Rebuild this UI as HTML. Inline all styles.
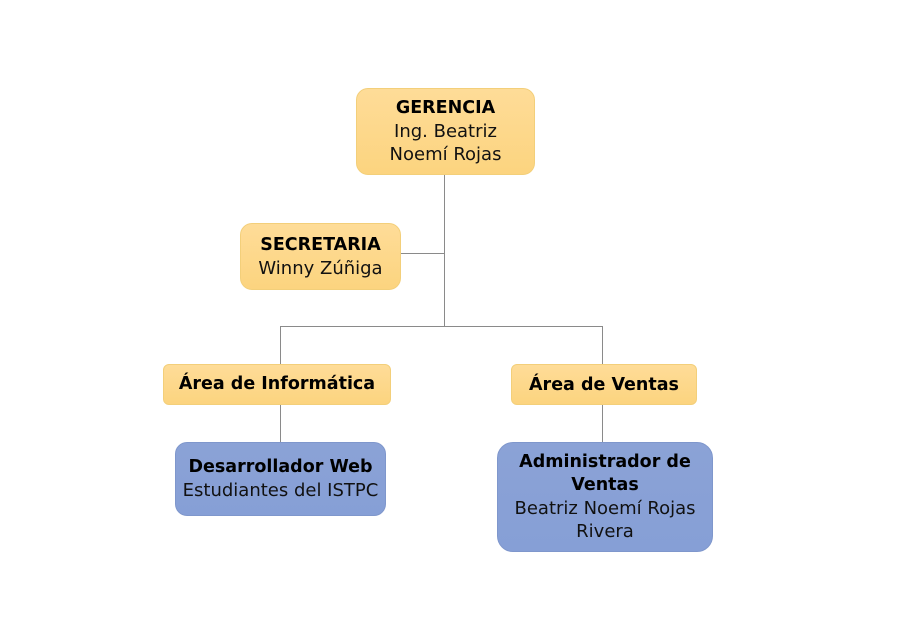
<!DOCTYPE html>
<html><head><meta charset="utf-8"><style>
body{margin:0;width:900px;height:636px;background:#fff;position:relative;font-family:"DejaVu Sans","Liberation Sans",sans-serif;overflow:hidden}
.b{position:absolute;box-sizing:border-box;display:flex;flex-direction:column;justify-content:center;align-items:center;text-align:center;font-size:18px;line-height:23px;color:#111;border-radius:12px;white-space:nowrap}
.y{background:linear-gradient(#fedc98,#fcd47f);border:1px solid #f3cf7a}
.u{background:linear-gradient(#8ba2d6,#869fd6);border:1px solid #7f97cc}
b{font-weight:bold;color:#000;font-size:17.5px}
.l{position:absolute;background:#8a8a8a}
</style></head><body>
<div class="l" style="left:444px;top:174px;width:1px;height:153px"></div>
<div class="l" style="left:400px;top:253px;width:45px;height:1px"></div>
<div class="l" style="left:280px;top:326px;width:323px;height:1px"></div>
<div class="l" style="left:280px;top:326px;width:1px;height:116px"></div>
<div class="l" style="left:602px;top:326px;width:1px;height:116px"></div>
<div class="b y" style="left:356px;top:88px;width:179px;height:87px"><b>GERENCIA</b><span>Ing. Beatriz</span><span>Noemí Rojas</span></div>
<div class="b y" style="left:240px;top:223px;width:161px;height:67px"><b>SECRETARIA</b><span>Winny Zúñiga</span></div>
<div class="b y" style="left:163px;top:364px;width:228px;height:41px;border-radius:6px"><b>Área de Informática</b></div>
<div class="b y" style="left:511px;top:364px;width:186px;height:41px;border-radius:6px;padding-top:2px"><b>Área de Ventas</b></div>
<div class="b u" style="left:175px;top:442px;width:211px;height:74px"><b>Desarrollador Web</b><span>Estudiantes del ISTPC</span></div>
<div class="b u" style="left:497px;top:442px;width:216px;height:110px;border-radius:16px"><b>Administrador de</b><b>Ventas</b><span>Beatriz Noemí Rojas</span><span>Rivera</span></div>
</body></html>
